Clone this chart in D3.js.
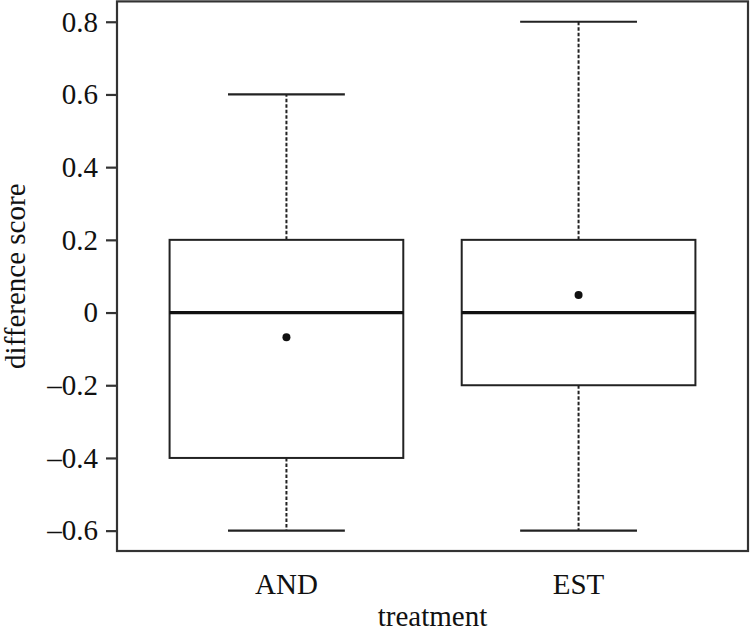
<!DOCTYPE html>
<html>
<head>
<meta charset="utf-8">
<script src="https://cdn.jsdelivr.net/npm/d3@7"></script>
<style>
  body { margin: 0; background: #fff; }
  text { font-family: "Liberation Serif", "Times New Roman", serif; fill: #111; }
</style>
</head>
<body>
<div id="chart"></div>
<script>
// Box plot of difference score by treatment
const width = 752;
const height = 634;
const plot = { left: 117, right: 748, top: 1.4, bottom: 551 };

const categories = ["AND", "EST"];
const whiskerLow = [-0.6, -0.6];
const q1 = [-0.4, -0.2];
const median = [0, 0];
const q3 = [0.2, 0.2];
const whiskerHigh = [0.6, 0.8];
const means = [-0.068, 0.048];
const yTicks = [-0.6, -0.4, -0.2, 0, 0.2, 0.4, 0.6, 0.8];
const yTickLabels = ["–0.6", "–0.4", "–0.2", "0", "0.2", "0.4", "0.6", "0.8"];

const svg = d3.select("#chart").append("svg")
    .attr("width", width)
    .attr("height", height);

// R-like axis ranges: positions 1..n, box width 0.8, 4% padding
const xAxis = d3.scaleLinear()
    .domain([0.42, categories.length + 0.58])
    .range([plot.left, plot.right]);

const yAxis = d3.scaleLinear()
    .domain([-0.656, 0.856])
    .range([plot.bottom, plot.top]);

const data = categories.map(function(c, i) {
  return { key: c, pos: i + 1, lo: whiskerLow[i], q1: q1[i], med: median[i],
           q3: q3[i], hi: whiskerHigh[i], mean: means[i] };
});

const boxHalf = (xAxis(1.4) - xAxis(0.6)) / 2;
const capHalf = boxHalf / 2;

const groups = svg.selectAll(".box")
    .data(data)
    .enter().append("g")
    .attr("class", "box");

// dashed whiskers
groups.append("line")
    .attr("x1", d => xAxis(d.pos)).attr("x2", d => xAxis(d.pos))
    .attr("y1", d => yAxis(d.q3)).attr("y2", d => yAxis(d.hi))
    .attr("stroke", "#222").attr("stroke-width", 2).attr("stroke-dasharray", "3.5,2");
groups.append("line")
    .attr("x1", d => xAxis(d.pos)).attr("x2", d => xAxis(d.pos))
    .attr("y1", d => yAxis(d.q1)).attr("y2", d => yAxis(d.lo))
    .attr("stroke", "#222").attr("stroke-width", 2).attr("stroke-dasharray", "3.5,2");

// whisker caps
["hi", "lo"].forEach(function(k) {
  groups.append("line")
      .attr("x1", d => xAxis(d.pos) - capHalf).attr("x2", d => xAxis(d.pos) + capHalf)
      .attr("y1", d => yAxis(d[k])).attr("y2", d => yAxis(d[k]))
      .attr("stroke", "#222").attr("stroke-width", 2.2);
});

// boxes
groups.append("rect")
    .attr("x", d => xAxis(d.pos) - boxHalf)
    .attr("width", boxHalf * 2)
    .attr("y", d => yAxis(d.q3))
    .attr("height", d => yAxis(d.q1) - yAxis(d.q3))
    .attr("fill", "#fff").attr("stroke", "#222").attr("stroke-width", 2);

// medians
groups.append("line")
    .attr("x1", d => xAxis(d.pos) - boxHalf).attr("x2", d => xAxis(d.pos) + boxHalf)
    .attr("y1", d => yAxis(d.med)).attr("y2", d => yAxis(d.med))
    .attr("stroke", "#111").attr("stroke-width", 3.2);

// means
groups.append("circle")
    .attr("cx", d => xAxis(d.pos))
    .attr("cy", d => yAxis(d.mean))
    .attr("r", 4)
    .attr("fill", "#111");

// frame
svg.append("rect")
    .attr("x", plot.left).attr("y", plot.top)
    .attr("width", plot.right - plot.left).attr("height", plot.bottom - plot.top)
    .attr("fill", "none").attr("stroke", "#333").attr("stroke-width", 2.2);

// y axis
const yg = svg.append("g")
    .attr("transform", "translate(" + plot.left + ",0)")
    .call(d3.axisLeft(yAxis)
        .tickValues(yTicks)
        .tickSize(11)
        .tickPadding(8)
        .tickFormat((d, i) => yTickLabels[i]));
yg.select(".domain").remove();
yg.selectAll(".tick line").attr("stroke", "#333").attr("stroke-width", 2.2);
yg.selectAll(".tick text")
    .attr("fill", "#111")
    .style("font-family", "'Liberation Serif', 'Times New Roman', serif")
    .style("font-size", "29px");

// x category labels
svg.selectAll(".xlab")
    .data(data)
    .enter().append("text")
    .attr("x", d => xAxis(d.pos))
    .attr("y", 594)
    .attr("text-anchor", "middle")
    .style("font-size", "29px")
    .text(d => d.key);

// label for x-axis
svg.append("text")
    .attr("x", (plot.left + plot.right) / 2)
    .attr("y", 626)
    .attr("text-anchor", "middle")
    .style("font-size", "29px")
    .text("treatment");

// label for y-axis
svg.append("text")
    .attr("transform", "rotate(-90)")
    .attr("x", -(plot.top + plot.bottom) / 2)
    .attr("y", 25)
    .attr("text-anchor", "middle")
    .style("font-size", "29px")
    .text("difference score");
</script>
</body>
</html>
